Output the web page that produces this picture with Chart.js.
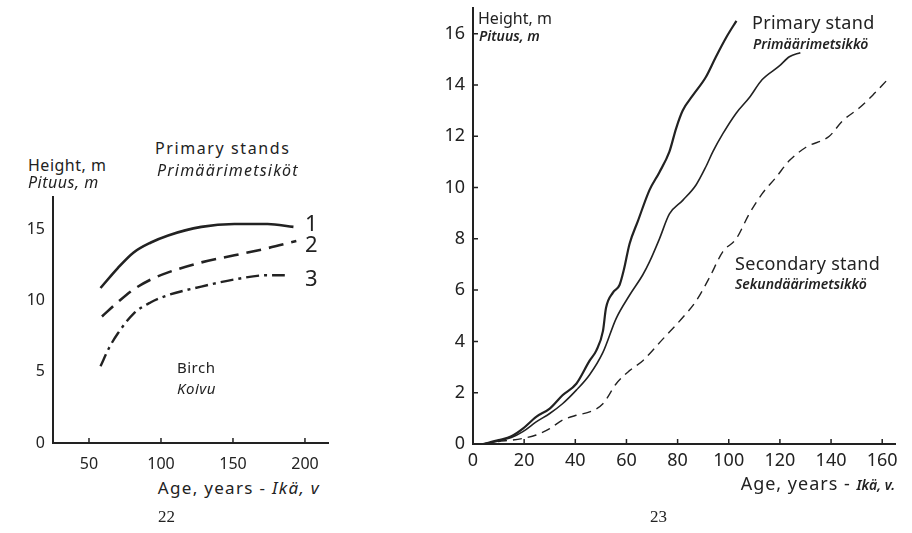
<!DOCTYPE html>
<html>
<head>
<meta charset="utf-8">
<script src="https://cdn.jsdelivr.net/npm/chart.js@4/dist/chart.umd.min.js"></script>
<style>
  body { margin: 0; background: #fff; }
  #page { position: relative; width: 912px; height: 533px; overflow: hidden; font-family: "Noto Sans", sans-serif; color: #222; }
  canvas { position: absolute; }
  .t { position: absolute; white-space: nowrap; line-height: 1; }
  .i { font-style: italic; }
  .num { font-family: "Liberation Serif", "DejaVu Serif", serif; font-size: 17px; }
</style>
</head>
<body>
<div id="page">
  <canvas id="birch" width="360" height="290" style="left:0;top:180px"></canvas>
  <canvas id="stands" width="492" height="480" style="left:420px;top:0"></canvas>

  <!-- figure 22 -->
  <div class="t" style="left:28px;top:157px;font-size:16px;letter-spacing:0.5px">Height, m</div>
  <div class="t i" style="left:28px;top:174px;font-size:16px;letter-spacing:0.5px">Pituus, m</div>
  <div class="t" style="left:155px;top:140px;font-size:16px;letter-spacing:1.6px">Primary stands</div>
  <div class="t i" style="left:157px;top:162px;font-size:16px;letter-spacing:1.2px">Primäärimetsiköt</div>
  <div class="t" style="left:305px;top:211px;font-size:22px">1</div>
  <div class="t" style="left:305px;top:232px;font-size:22px">2</div>
  <div class="t" style="left:305px;top:266px;font-size:22px">3</div>
  <div class="t" style="left:177px;top:360px;font-size:15px;letter-spacing:0.5px">Birch</div>
  <div class="t i" style="left:177px;top:381px;font-size:15px;letter-spacing:0.5px">Koivu</div>
  <div class="t" style="right:592px;top:479px;font-size:17px;letter-spacing:1.3px">Age, years - <i>Ikä, v</i></div>
  <div class="t num" style="left:158px;top:508px">22</div>

  <!-- figure 23 -->
  <div class="t" style="left:478px;top:10px;font-size:16px">Height, m</div>
  <div class="t i" style="left:479px;top:29px;font-size:14px;font-weight:600">Pituus, m</div>
  <div class="t" style="left:752px;top:13px;font-size:18px;letter-spacing:0.3px">Primary stand</div>
  <div class="t i" style="left:753px;top:37px;font-size:14px;font-weight:600">Primäärimetsikkö</div>
  <div class="t" style="left:735px;top:254px;font-size:18px;letter-spacing:0.3px">Secondary stand</div>
  <div class="t i" style="left:735px;top:277px;font-size:14px;font-weight:600">Sekundäärimetsikkö</div>
  <div class="t" style="right:17px;top:474px;font-size:18px;letter-spacing:1px">Age, years - <i style="font-size:14px;font-weight:600;letter-spacing:0">Ikä, v.</i></div>
  <div class="t num" style="left:650px;top:508px">23</div>
</div>
<script>
const ink = '#222';

// fig 22, birch, primary stands
const birchAges1 = [58, 70, 81, 93, 105, 128, 151, 174, 192];
const birchHeights1 = [10.9, 12.3, 13.4, 14.1, 14.6, 15.2, 15.4, 15.4, 15.2];
const birchAges2 = [59, 70, 81, 93, 105, 128, 151, 174, 194];
const birchHeights2 = [8.9, 9.9, 10.8, 11.5, 12.0, 12.7, 13.2, 13.7, 14.2];
const birchAges3 = [58, 64, 70, 81, 93, 105, 128, 151, 174, 186];
const birchHeights3 = [5.4, 6.7, 7.7, 9.1, 9.9, 10.4, 11.0, 11.5, 11.8, 11.8];
const birchAgeTicks = [50, 100, 150, 200];
const birchHeightTicks = [0, 5, 10, 15];

// fig 23, primary vs secondary stand
const primaryAgesA = [4, 10, 15, 19.5, 24.7, 30, 35, 40.4, 45.6, 48.2, 50.8, 52, 54.7, 57.3, 59, 61.2, 64.5, 69, 72.9, 76.8, 79.4, 82, 86, 91, 95, 99, 103];
const primaryHeightsA = [0, 0.15, 0.3, 0.6, 1.06, 1.38, 1.9, 2.35, 3.25, 3.64, 4.4, 5.3, 5.9, 6.2, 6.8, 7.8, 8.7, 9.9, 10.6, 11.4, 12.3, 13.0, 13.6, 14.3, 15.1, 15.85, 16.5];
const primaryAgesB = [4, 10, 15, 19.5, 24.7, 30, 35, 40.4, 45.6, 50.8, 56, 61.2, 66.4, 69, 72.9, 76.8, 82, 87.2, 91, 93.8, 97.7, 102.9, 108, 113, 119.8, 123.7, 128];
const primaryHeightsB = [0, 0.12, 0.25, 0.48, 0.86, 1.19, 1.57, 2.1, 2.7, 3.57, 4.9, 5.8, 6.6, 7.1, 8.0, 8.97, 9.5, 10.1, 10.8, 11.4, 12.1, 12.9, 13.5, 14.2, 14.74, 15.1, 15.26];
const secondaryAges = [4, 10, 15, 19.5, 24.7, 30, 35, 40.4, 45.6, 50.8, 56, 61.2, 66.4, 74.2, 82, 87.2, 92.4, 97.7, 102.9, 108, 113, 118.5, 123.7, 130.2, 139.3, 144.5, 151, 156.3, 162];
const secondaryHeights = [0, 0.1, 0.15, 0.22, 0.35, 0.6, 0.93, 1.12, 1.25, 1.57, 2.35, 2.86, 3.25, 4.09, 4.93, 5.57, 6.48, 7.5, 8.0, 8.97, 9.75, 10.4, 11.05, 11.57, 12.0, 12.6, 13.1, 13.6, 14.2];
const standAgeTicks = [0, 20, 40, 60, 80, 100, 120, 140, 160];
const standHeightTicks = [0, 2, 4, 6, 8, 10, 12, 14, 16];

const pts = (xs, ys) => xs.map((x, i) => ({ x, y: ys[i] }));

// small tick marks pointing into the plot, like the printed figure
const innerTicks = {
    id: 'innerTicks',
    afterDraw(chart, args, opts) {
        const { ctx, chartArea } = chart;
        const { x, y } = chart.scales;
        ctx.save();
        ctx.strokeStyle = ink;
        ctx.lineWidth = 1.5;
        ctx.beginPath();
        if (opts.x) {
            x.ticks.forEach(t => {
                const px = x.getPixelForValue(t.value);
                if (px <= chartArea.left + 2) { return; }
                ctx.moveTo(px, chartArea.bottom);
                ctx.lineTo(px, chartArea.bottom - opts.len);
            });
        }
        if (opts.y) {
            y.ticks.forEach(t => {
                const py = y.getPixelForValue(t.value);
                if (py >= chartArea.bottom - 2) { return; }
                ctx.moveTo(chartArea.left, py);
                ctx.lineTo(chartArea.left + opts.len, py);
            });
        }
        ctx.stroke();
        ctx.restore();
    }
};

const keepTicks = list => scale => {
    scale.ticks = list.map(v => ({ value: v }));
};

// fixed axis size, and no extra room kept for the end labels
const fitX = h => s => { s.height = h; s.paddingLeft = 0; s.paddingRight = 0; };
const fitY = w => s => { s.width = w; s.paddingTop = 0; s.paddingBottom = 0; };

function axis(min, max, list, fontSize, pad, fit) {
    return {
        type: 'linear',
        min,
        max,
        afterBuildTicks: keepTicks(list),
        afterFit: fit,
        grid: { drawOnChartArea: false, drawTicks: false },
        border: { color: ink, width: 2 },
        ticks: { color: ink, padding: pad, font: { family: 'Noto Sans', size: fontSize } }
    };
}

function lineSet(data, width, dash) {
    return {
        data,
        borderColor: ink,
        borderWidth: width,
        borderDash: dash,
        pointRadius: 0,
        cubicInterpolationMode: 'monotone',
        fill: false
    };
}

new Chart(document.getElementById('birch'), {
    type: 'line',
    data: {
        datasets: [
            lineSet(pts(birchAges1, birchHeights1), 2.6, []),
            lineSet(pts(birchAges2, birchHeights2), 2.6, [15, 8]),
            lineSet(pts(birchAges3, birchHeights3), 2.4, [13, 5, 3, 5])
        ]
    },
    options: {
        responsive: false,
        animation: false,
        layout: { padding: { left: 13, right: 32, top: 17, bottom: 0 } },
        plugins: { legend: { display: false }, tooltip: { enabled: false }, innerTicks: { x: true, y: false, len: 5 } },
        scales: {
            x: axis(25, 216, birchAgeTicks, 16, 12, fitX(27)),
            y: axis(0, 17.3, birchHeightTicks, 16, 8, fitY(40))
        }
    },
    plugins: [innerTicks]
});

new Chart(document.getElementById('stands'), {
    type: 'line',
    data: {
        datasets: [
            lineSet(pts(primaryAgesA, primaryHeightsA), 2.2, []),
            lineSet(pts(primaryAgesB, primaryHeightsB), 1.6, []),
            lineSet(pts(secondaryAges, secondaryHeights), 1.4, [9, 6])
        ]
    },
    options: {
        responsive: false,
        animation: false,
        layout: { padding: { left: 13, right: 17, top: 8, bottom: 10 } },
        plugins: { legend: { display: false }, tooltip: { enabled: false }, innerTicks: { x: true, y: true, len: 5 } },
        scales: {
            x: axis(0, 165, standAgeTicks, 18, 6, fitX(26)),
            y: axis(0, 17, standHeightTicks, 18, 8, fitY(40))
        }
    },
    plugins: [innerTicks]
});
</script>
</body>
</html>
